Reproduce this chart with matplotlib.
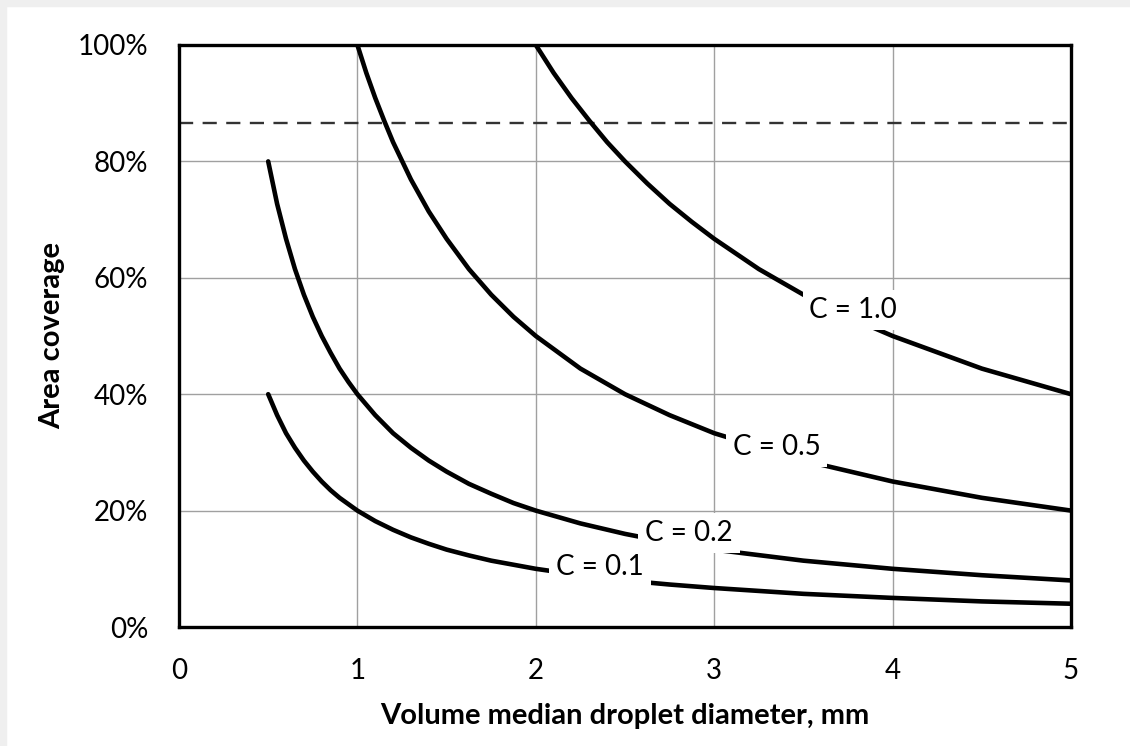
import matplotlib.pyplot as plt
from matplotlib.patches import Rectangle
from matplotlib.ticker import PercentFormatter

plt.rcParams['font.family'] = ['Lato', 'DejaVu Sans']

# droplet diameter (mm) and area coverage for each concentration
d_small = [0.5, 0.55, 0.6, 0.65, 0.7, 0.75, 0.8, 0.85, 0.9, 0.95, 1.0, 1.1, 1.2, 1.3, 1.4,
           1.5, 1.625, 1.75, 1.875, 2.0, 2.25, 2.5, 2.75, 3.0, 3.5, 4.0, 4.5, 5.0]
cov_c01 = [0.40, 0.364, 0.333, 0.308, 0.286, 0.267, 0.25, 0.235, 0.222, 0.211, 0.20, 0.182,
           0.167, 0.154, 0.143, 0.133, 0.123, 0.114, 0.107, 0.10, 0.089, 0.08, 0.073, 0.067,
           0.057, 0.05, 0.044, 0.04]
cov_c02 = [0.80, 0.727, 0.667, 0.615, 0.571, 0.533, 0.50, 0.471, 0.444, 0.421, 0.40, 0.364,
           0.333, 0.308, 0.286, 0.267, 0.246, 0.229, 0.213, 0.20, 0.178, 0.16, 0.145, 0.133,
           0.114, 0.10, 0.089, 0.08]

d_c05 = [1.0, 1.05, 1.1, 1.15, 1.2, 1.3, 1.4, 1.5, 1.625, 1.75, 1.875, 2.0, 2.25, 2.5,
         2.75, 3.0, 3.5, 4.0, 4.5, 5.0]
cov_c05 = [1.0, 0.952, 0.909, 0.870, 0.833, 0.769, 0.714, 0.667, 0.615, 0.571, 0.533, 0.50,
           0.444, 0.40, 0.364, 0.333, 0.286, 0.25, 0.222, 0.20]

d_c10 = [2.0, 2.1, 2.2, 2.3, 2.4, 2.5, 2.625, 2.75, 2.875, 3.0, 3.25, 3.5, 3.75, 4.0,
         4.5, 5.0]
cov_c10 = [1.0, 0.952, 0.909, 0.870, 0.833, 0.80, 0.762, 0.727, 0.696, 0.667, 0.615, 0.571,
           0.533, 0.50, 0.444, 0.40]

max_coverage = 0.866

labels = ['C = 1.0', 'C = 0.5', 'C = 0.2', 'C = 0.1']
label_x = [3.78, 3.35, 2.86, 2.36]
label_y = [0.545, 0.309, 0.161, 0.103]

fig = plt.figure(figsize=(11.3, 7.46), dpi=100)
ax = fig.add_axes([0.1584, 0.1595, 0.7894, 0.7802])

# light frame along the top and left edges
fig.patches.append(Rectangle((0, 0.992), 1, 0.008, transform=fig.transFigure,
                             color='#efefef', zorder=0))
fig.patches.append(Rectangle((0, 0), 0.0055, 0.992, transform=fig.transFigure,
                             color='#efefef', zorder=0))

for x, y in [(d_small, cov_c01), (d_small, cov_c02), (d_c05, cov_c05), (d_c10, cov_c10)]:
    ax.plot(x, y, color='black', lw=3.3, solid_capstyle='round',
            solid_joinstyle='round', zorder=3)

ax.axhline(max_coverage, color='#333333', lw=1.7, dashes=(6, 4), zorder=2)

for txt, x, y in zip(labels, label_x, label_y):
    ax.text(x, y, txt, ha='center', va='center', fontsize=20, zorder=5,
            bbox=dict(facecolor='white', edgecolor='none', pad=5))

ax.set_xlim(0, 5)
ax.set_ylim(0, 1)
ax.set_xticks(range(6))
ax.set_yticks([0, 0.2, 0.4, 0.6, 0.8, 1.0])
ax.yaxis.set_major_formatter(PercentFormatter(1.0, decimals=0))
ax.grid(True, color='#a0a0a0', lw=1)
ax.set_axisbelow(True)
ax.tick_params(length=0, labelsize=20, colors='black')
ax.tick_params(axis='y', pad=22)
ax.tick_params(axis='x', pad=22)

for s in ax.spines.values():
    s.set_linewidth(2.4)
    s.set_color('black')
    s.set_zorder(6)

ax.set_xlabel('Volume median droplet diameter, mm', fontsize=21, fontweight='bold', labelpad=14)
ax.set_ylabel('Area coverage', fontsize=21, fontweight='bold', labelpad=9)

fig.savefig('out.png', dpi=100)
